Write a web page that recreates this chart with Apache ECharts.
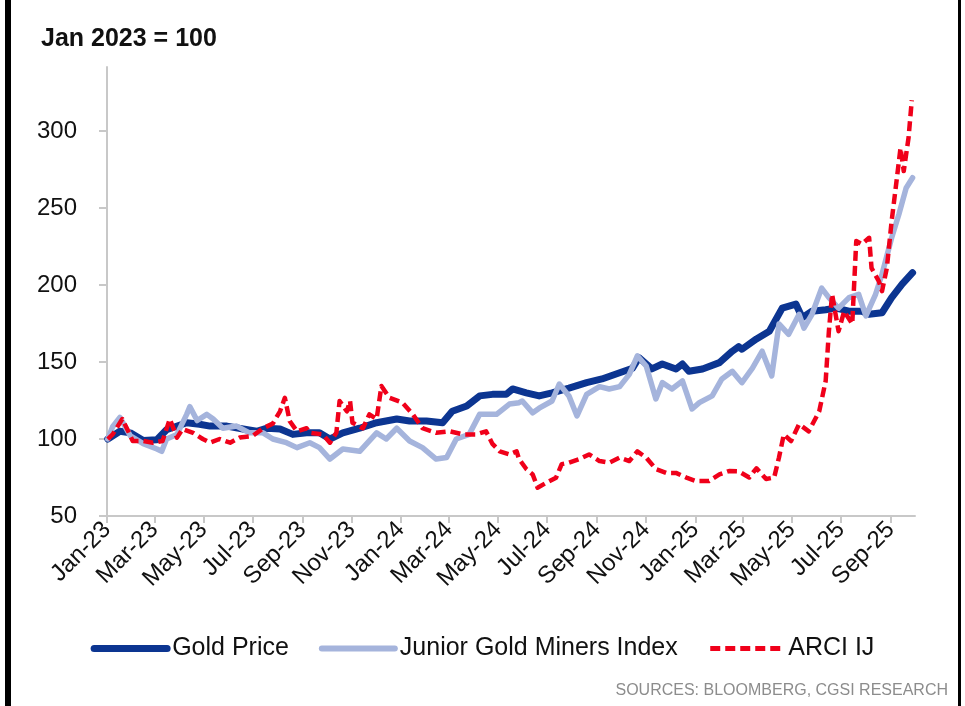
<!DOCTYPE html>
<html>
<head>
<meta charset="utf-8">
<script src="https://cdn.jsdelivr.net/npm/echarts@6/dist/echarts.min.js"></script>
<style>
  html, body { margin: 0; padding: 0; background: #fff; }
  #chart { width: 965px; height: 706px; }
</style>
</head>
<body>
<div id="chart"></div>
<script>
// 2 month ticks on the date axis
const tickDates = ['2023-01-01', '2023-03-01', '2023-05-01', '2023-07-01', '2023-09-01', '2023-11-01',
  '2024-01-01', '2024-03-01', '2024-05-01', '2024-07-01', '2024-09-01', '2024-11-01',
  '2025-01-01', '2025-03-01', '2025-05-01', '2025-07-01', '2025-09-01']
const tickLabels = ['Jan-23', 'Mar-23', 'May-23', 'Jul-23', 'Sep-23', 'Nov-23',
  'Jan-24', 'Mar-24', 'May-24', 'Jul-24', 'Sep-24', 'Nov-24',
  'Jan-25', 'Mar-25', 'May-25', 'Jul-25', 'Sep-25']
const yTicks = [50, 100, 150, 200, 250, 300]

// Gold Price (Jan 2023 = 100)
const goldDates = ['2023-01-02', '2023-01-17', '2023-01-30', '2023-02-15', '2023-03-04', '2023-03-16',
  '2023-04-10', '2023-04-26', '2023-05-09', '2023-05-30', '2023-06-19', '2023-07-06', '2023-07-19',
  '2023-08-04', '2023-08-20', '2023-09-06', '2023-09-22', '2023-10-05', '2023-10-21', '2023-11-11',
  '2023-12-02', '2023-12-27', '2024-01-12', '2024-02-02', '2024-02-22', '2024-03-05', '2024-03-23',
  '2024-04-08', '2024-04-24', '2024-05-11', '2024-05-19', '2024-06-05', '2024-06-21', '2024-07-07',
  '2024-07-28', '2024-08-19', '2024-09-07', '2024-09-29', '2024-10-15', '2024-10-23', '2024-11-08',
  '2024-11-21', '2024-12-08', '2024-12-16', '2024-12-24', '2025-01-10', '2025-01-31', '2025-02-16',
  '2025-02-24', '2025-02-28', '2025-03-18', '2025-04-03', '2025-04-19', '2025-05-06', '2025-05-14',
  '2025-05-26', '2025-06-12', '2025-06-25', '2025-07-11', '2025-07-27', '2025-08-05', '2025-08-21',
  '2025-09-02', '2025-09-15', '2025-09-28']
const goldValues = [100, 105, 104, 99, 99.5, 106,
  110.6, 109.6, 108.4, 108.4, 106.5, 105, 107,
  106.5, 103, 104, 104, 100, 104, 107,
  110.6, 113, 111.7, 111.7, 110.6, 118, 121.4,
  128, 129, 129, 132.5, 130, 128, 130,
  133, 136.6, 139, 143, 146, 152.8, 145.5,
  148.7, 145.5, 148.7, 144, 145.5, 149.6, 157,
  160, 158.3, 165, 170, 185, 187.6, 178.8,
  183, 184, 185, 183, 183, 181, 182,
  191.8, 200.6, 208]

// Junior Gold Miners Index
const minersDates = ['2023-01-02', '2023-01-08', '2023-01-17', '2023-01-30', '2023-02-15', '2023-03-04',
  '2023-03-10', '2023-03-16', '2023-03-29', '2023-04-10', '2023-04-14', '2023-04-23', '2023-05-05',
  '2023-05-13', '2023-05-25', '2023-06-11', '2023-06-27', '2023-07-14', '2023-07-26', '2023-08-12',
  '2023-08-25', '2023-09-10', '2023-09-22', '2023-10-05', '2023-10-21', '2023-11-11', '2023-12-02',
  '2023-12-14', '2023-12-27', '2024-01-12', '2024-01-28', '2024-02-14', '2024-02-27', '2024-03-10',
  '2024-03-26', '2024-04-08', '2024-04-29', '2024-05-15', '2024-05-27', '2024-05-31', '2024-06-13',
  '2024-06-21', '2024-07-07', '2024-07-16', '2024-07-28', '2024-08-07', '2024-08-19', '2024-09-04',
  '2024-09-16', '2024-09-29', '2024-10-11', '2024-10-21', '2024-11-01', '2024-11-13', '2024-11-21',
  '2024-12-03', '2024-12-16', '2024-12-28', '2025-01-06', '2025-01-22', '2025-02-03', '2025-02-16',
  '2025-02-24', '2025-02-28', '2025-03-13', '2025-03-25', '2025-04-06', '2025-04-15', '2025-04-27',
  '2025-05-10', '2025-05-16', '2025-05-26', '2025-06-07', '2025-06-16', '2025-06-28', '2025-07-11',
  '2025-07-23', '2025-08-01', '2025-08-13', '2025-08-21', '2025-09-02', '2025-09-11', '2025-09-20',
  '2025-09-28']
const minersValues = [100, 108, 114, 102, 97, 93.5,
  92, 100, 103, 116, 121, 112, 116,
  113, 107, 108.4, 104, 104, 100, 97.6,
  94.4, 97.6, 94.4, 87, 93.5, 92, 104,
  100, 107, 98.7, 94.4, 87, 88, 100,
  103, 116, 116, 122.7, 123.6, 124.7, 117,
  120, 124.7, 135.7, 128, 115, 129, 134,
  132.5, 134, 142, 154, 147.4, 126, 136.6,
  132.5, 137.7, 119.5, 123.6, 128, 139, 144,
  139, 136.6, 146, 157, 141, 174.7, 168,
  181, 172, 181, 198, 191.8, 185, 191.8,
  194, 180, 194, 207, 230.7, 246, 263,
  269.7]

// ARCI IJ
const arciDates = ['2023-01-02', '2023-01-08', '2023-01-20', '2023-01-26', '2023-02-02', '2023-02-15',
  '2023-02-27', '2023-03-11', '2023-03-20', '2023-03-29', '2023-04-05', '2023-04-18', '2023-04-30',
  '2023-05-09', '2023-05-21', '2023-06-03', '2023-06-15', '2023-07-01', '2023-07-14', '2023-07-26',
  '2023-08-04', '2023-08-10', '2023-08-16', '2023-08-25', '2023-09-06', '2023-09-10', '2023-09-26',
  '2023-10-05', '2023-10-13', '2023-10-17', '2023-10-26', '2023-10-30', '2023-11-02', '2023-11-15',
  '2023-11-23', '2023-12-02', '2023-12-08', '2023-12-18', '2024-01-03', '2024-01-16', '2024-01-28',
  '2024-02-14', '2024-03-02', '2024-03-18', '2024-04-04', '2024-04-16', '2024-04-24', '2024-05-03',
  '2024-05-15', '2024-05-24', '2024-05-27', '2024-06-05', '2024-06-13', '2024-06-19', '2024-06-30',
  '2024-07-12', '2024-07-19', '2024-07-28', '2024-08-10', '2024-08-22', '2024-09-04', '2024-09-16',
  '2024-09-29', '2024-10-11', '2024-10-21', '2024-11-01', '2024-11-13', '2024-11-26', '2024-12-08',
  '2024-12-21', '2025-01-02', '2025-01-18', '2025-01-31', '2025-02-12', '2025-02-24', '2025-03-09',
  '2025-03-18', '2025-03-30', '2025-04-09', '2025-04-15', '2025-04-21', '2025-04-30', '2025-05-10',
  '2025-05-22', '2025-06-04', '2025-06-12', '2025-06-16', '2025-06-20', '2025-06-28', '2025-07-05',
  '2025-07-15', '2025-07-20', '2025-07-27', '2025-08-05', '2025-08-08', '2025-08-17', '2025-08-21',
  '2025-08-27', '2025-09-02', '2025-09-07', '2025-09-13', '2025-09-17', '2025-09-23', '2025-09-27']
const arciValues = [100, 103, 113, 106.5, 98.7, 98.7,
  97.6, 98.7, 113, 100.9, 106.5, 104, 100,
  97.6, 100, 97.6, 101, 102, 107, 110,
  118, 126.8, 111.7, 105, 107, 104, 103,
  97.6, 104, 124.7, 118, 124.7, 110.6, 107,
  116, 113, 134.4, 126.8, 123.6, 116, 107,
  104, 105, 103, 103, 105, 96.8, 92,
  90, 92, 87, 80.5, 77, 68.4, 71.6,
  74.9, 83.7, 84.6, 87, 90, 85.7, 84.6,
  87.9, 85.7, 92, 87.9, 80.5, 78, 78,
  74.9, 72.7, 72.7, 77, 79.2, 79, 75,
  81, 74, 75, 88, 103, 98.7, 109.6,
  105, 118, 137.7, 170, 194, 170, 183,
  174.7, 228.6, 226.6, 230.7, 211, 202.6, 196,
  211, 241.6, 263, 289, 274, 295.7, 320]

// dates -> timestamps, the x axis is a plain value axis in ms
const ts = s => { const p = s.split('-'); return new Date(+p[0], +p[1] - 1, +p[2]).getTime() }
const zip = (dates, vals) => dates.map((d, i) => [ts(d), vals[i]])
const tickTs = tickDates.map(ts)

const GOLD = '#0c3591'
const MINERS = '#a5b4dc'
const ARCI = '#f0001a'
const font = "'Liberation Sans', Arial, sans-serif"
const chart = echarts.init(document.getElementById('chart'), null, { renderer: 'canvas' })

chart.setOption({
  backgroundColor: '#fff',
  animation: false,
  textStyle: { fontFamily: font },
  title: {
    text: 'Jan 2023 = 100',
    left: 36, top: 22,
    textStyle: { fontFamily: font, fontSize: 25, fontWeight: 'bold', color: '#111' }
  },
  graphic: [
    { type: 'rect', left: 5, top: 0, shape: { width: 6, height: 706 }, style: { fill: '#000' } },
    { type: 'rect', left: 958, top: 0, shape: { width: 3, height: 706 }, style: { fill: '#000' } },
    {
      type: 'text', right: 17, top: 683,
      style: { text: 'SOURCES: BLOOMBERG, CGSI RESEARCH', fontFamily: font, fontSize: 16, fill: '#8c8c8c' }
    }
  ],
  grid: { left: 107, right: 50, top: 67, bottom: 190, containLabel: false },
  legend: {
    top: 631, left: 'center',
    itemWidth: 73, itemHeight: 14, itemGap: 30,
    itemStyle: { opacity: 0 },   // hide the dot, keep only the line
    textStyle: { fontFamily: font, fontSize: 25, color: '#111' },
    data: [
      { name: 'Gold Price', lineStyle: { width: 7, cap: 'round' } },
      { name: 'Junior Gold Miners Index', lineStyle: { width: 6, cap: 'round' } },
      { name: 'ARCI IJ', lineStyle: { width: 5 } }
    ]
  },
  xAxis: {
    type: 'value',
    min: ts('2023-01-01'), max: ts('2025-10-01'),
    splitLine: { show: false },
    axisLine: { lineStyle: { color: '#c8c8c8', width: 2 } },
    axisTick: { show: true, length: 7, lineStyle: { color: '#c8c8c8', width: 2 }, customValues: tickTs },
    axisLabel: {
      customValues: tickTs,
      rotate: 45, margin: 10,
      fontFamily: font, fontSize: 24, color: '#111',
      formatter: v => tickLabels[tickTs.indexOf(v)] || ''
    }
  },
  yAxis: {
    type: 'value',
    min: 50, max: 341.6,
    splitLine: { show: false },
    axisLine: { show: true, lineStyle: { color: '#c8c8c8', width: 2 } },
    axisTick: { show: true, length: 8, lineStyle: { color: '#c8c8c8', width: 2 }, customValues: yTicks },
    axisLabel: { customValues: yTicks, margin: 30, fontFamily: font, fontSize: 24, color: '#111' }
  },
  series: [
    {
      name: 'Gold Price', type: 'line', showSymbol: false, symbol: 'none',
      data: zip(goldDates, goldValues),
      itemStyle: { color: GOLD },
      lineStyle: { color: GOLD, width: 7, join: 'round', cap: 'round' }
    },
    {
      name: 'Junior Gold Miners Index', type: 'line', showSymbol: false, symbol: 'none',
      data: zip(minersDates, minersValues),
      itemStyle: { color: MINERS },
      lineStyle: { color: MINERS, width: 5.5, join: 'round', cap: 'round' }
    },
    {
      name: 'ARCI IJ', type: 'line', showSymbol: false, symbol: 'none',
      data: zip(arciDates, arciValues),
      itemStyle: { color: ARCI },
      lineStyle: { color: ARCI, width: 4.5, type: [10, 5], join: 'round' }
    }
  ]
})
</script>
</body>
</html>
